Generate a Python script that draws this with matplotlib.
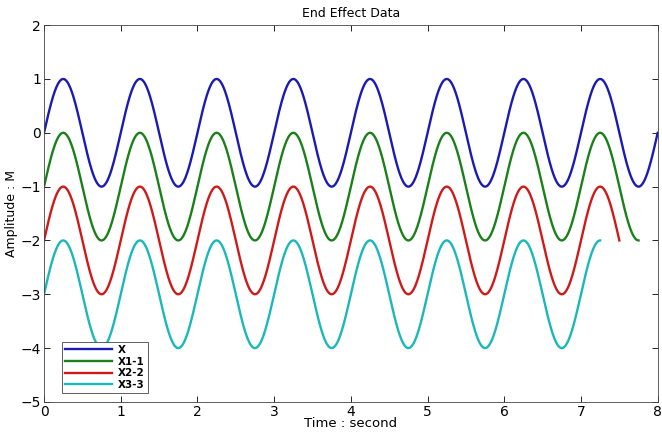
import numpy as np
import matplotlib
matplotlib.use("Agg")
import matplotlib.pyplot as plt

# Data: unit-amplitude sine waves of period 1 s,
# each shifted down by an offset and truncated at an end time.
labels = ["X", "X1-1", "X2-2", "X3-3"]
offsets = [0.0, -1.0, -2.0, -3.0]
end_times = [8.0, 7.75, 7.5, 7.25]
amplitude = 1.0
period = 1.0
colors = ["#1a1ab4", "#1a801a", "#d01a1a", "#1ab8b8"]
xticks = [0, 1, 2, 3, 4, 5, 6, 7, 8]
yticks = [-5, -4, -3, -2, -1, 0, 1, 2]

fig = plt.figure(figsize=(6.62, 4.34), dpi=100)
ax = fig.add_axes([0.0665, 0.074, 0.927, 0.868])

for lab, off, te, c in zip(labels, offsets, end_times, colors):
    t = np.linspace(0, te, int(te * 200) + 1)
    y = amplitude * np.sin(2 * np.pi * t / period) + off
    ax.plot(t, y, color=c, lw=1.7, label=lab)

ax.set_xlim(0, 8)
ax.set_ylim(-5, 2)
ax.set_xticks(xticks)
ax.set_yticks(yticks)
ax.tick_params(direction="in", top=True, right=True, labelsize=10, length=4,
               width=0.6, pad=2)
for s in ax.spines.values():
    s.set_linewidth(0.6)
    s.set_color("#444444")
ax.set_title("End Effect Data", fontsize=9)
ax.set_xlabel("Time : second", fontsize=9.5, labelpad=-1)
ax.set_ylabel("Amplitude : M", fontsize=9, labelpad=2)
leg = ax.legend(loc="lower left", bbox_to_anchor=(0.02, 0.01), fontsize=7.5,
                handlelength=4.5, fancybox=False, framealpha=1,
                edgecolor="#444444", borderpad=0.3, labelspacing=0.15,
                handletextpad=0.6)
leg.get_frame().set_linewidth(0.6)
for txt in leg.get_texts():
    txt.set_fontweight("bold")

fig.savefig("out.png", dpi=100)
